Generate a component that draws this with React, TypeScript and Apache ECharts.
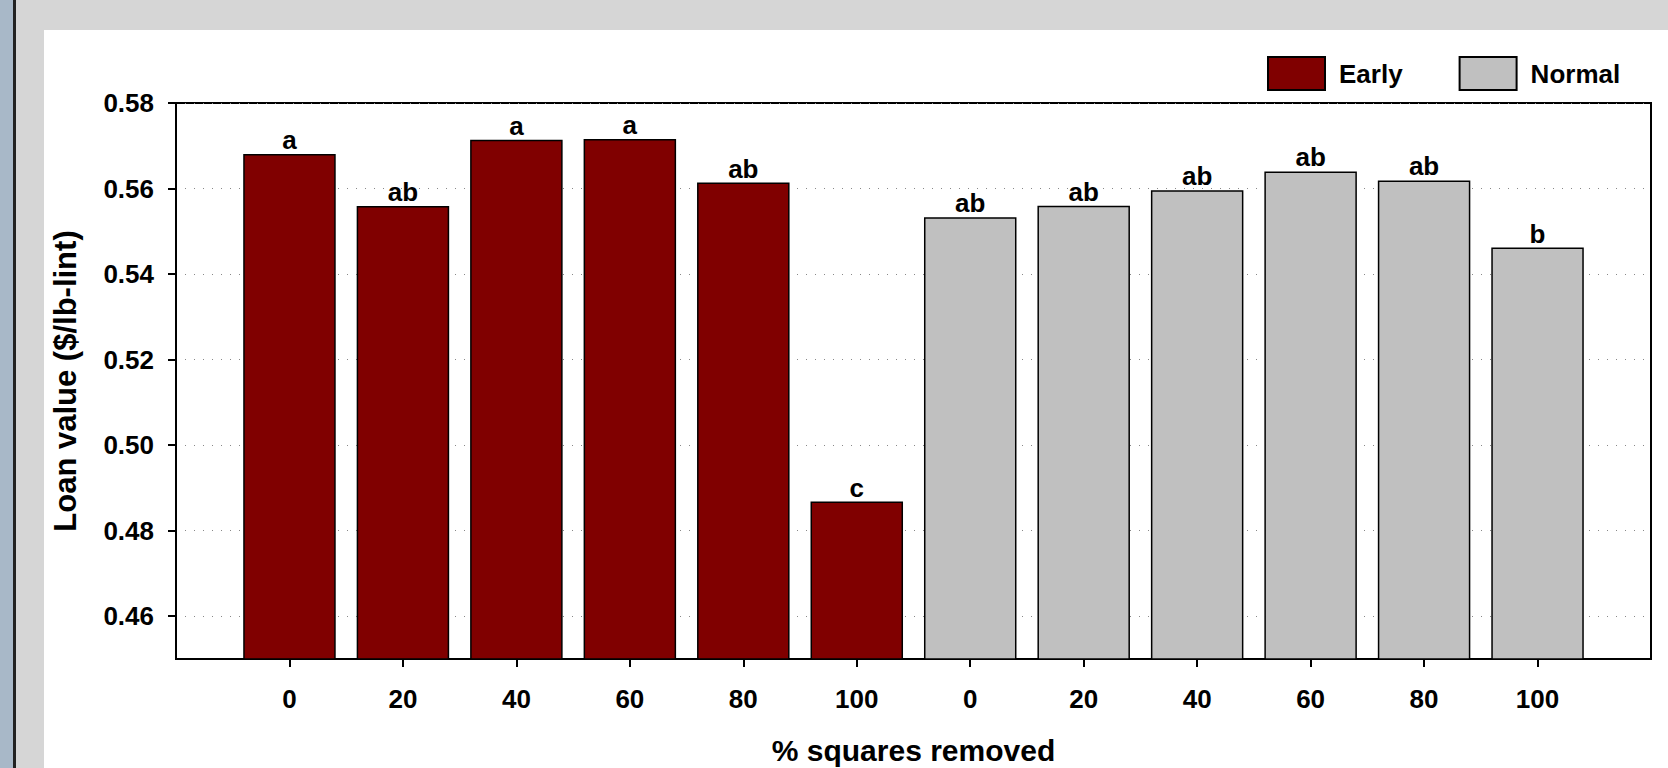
import React, { useEffect, useRef } from "react";
import * as echarts from "echarts";

const categories = ["", "0", "20", "40", "60", "80", "100", "0", "20", "40", "60", "80", "100", ""];
const earlyValues = [0.5681, 0.5559, 0.5714, 0.5716, 0.5614, 0.4868];
const normalValues = [0.5533, 0.556, 0.5596, 0.564, 0.5619, 0.5462];
const earlyLetters = ["a", "ab", "a", "a", "ab", "c"];
const normalLetters = ["ab", "ab", "ab", "ab", "ab", "b"];
const yTicks = [0.46, 0.48, 0.5, 0.52, 0.54, 0.56, 0.58];

const FONT = "'Liberation Sans', Arial, sans-serif";

export default function App() {
  const ref = useRef<HTMLDivElement>(null);

  useEffect(() => {
    if (!ref.current) return;
    const chart = echarts.init(ref.current, undefined, { renderer: "svg" });

    const earlyData: any[] = categories.map(() => "-");
    const normalData: any[] = categories.map(() => "-");
    earlyValues.forEach((v, i) => (earlyData[i + 1] = v));
    normalValues.forEach((v, i) => (normalData[i + 7] = v));

    const labelStyle = (letters: string[], offset: number) => ({
      show: true,
      position: "top" as const,
      distance: 1,
      color: "#000",
      fontFamily: FONT,
      fontWeight: "bold" as const,
      fontSize: 26,
      formatter: (p: any) => letters[p.dataIndex - offset] ?? "",
    });

    chart.setOption({
      animation: false,
      backgroundColor: "transparent",
      textStyle: { fontFamily: FONT },
      legend: {
        left: 1267,
        top: 56,
        padding: 0,
        itemWidth: 57,
        itemHeight: 33,
        itemGap: 56,
        icon: "rect",
        textStyle: { fontSize: 26, fontWeight: "bold", color: "#000", fontFamily: FONT, padding: [0, 0, 0, 9] },
        data: ["Early", "Normal"],
      },
      grid: {
        left: 176,
        right: 17,
        top: 103,
        bottom: 109,
        outerBoundsMode: "none",
        containLabel: false,
        show: true,
        borderColor: "#000",
        borderWidth: 2,
        backgroundColor: "transparent",
      },
      xAxis: {
        type: "category",
        data: categories,
        boundaryGap: false,
        name: "% squares removed",
        nameLocation: "middle",
        nameGap: 76,
        nameTextStyle: { fontSize: 30, fontWeight: "bold", color: "#000", fontFamily: FONT, lineHeight: 30 },
        axisLine: { show: true, lineStyle: { color: "#000", width: 2 } },
        axisTick: {
          show: true,
          length: 8,
          lineStyle: { color: "#000", width: 2 },
          interval: (index: number) => index > 0 && index < categories.length - 1,
        },
        axisLabel: {
          margin: 27,
          fontSize: 26,
          fontWeight: "bold",
          color: "#000",
          fontFamily: FONT,
          interval: (index: number) => index > 0 && index < categories.length - 1,
        },
        splitLine: { show: false },
      },
      yAxis: {
        type: "value",
        min: 0.45,
        max: 0.58,
        name: "Loan value ($/lb-lint)",
        nameLocation: "middle",
        nameGap: 95,
        nameTextStyle: { fontSize: 31, fontWeight: "bold", color: "#000", fontFamily: FONT },
        axisLine: { show: true, lineStyle: { color: "#000", width: 2 } },
        axisTick: {
          show: true,
          length: 8,
          lineStyle: { color: "#000", width: 2 },
          customValues: yTicks,
        },
        axisLabel: {
          margin: 22,
          fontSize: 26,
          fontWeight: "bold",
          color: "#000",
          fontFamily: FONT,
          customValues: yTicks,
          formatter: (v: number) => v.toFixed(2),
        },
        splitLine: {
          show: true,
          lineStyle: { color: "#888", width: 1, type: [1, 8] },
        },
      },
      series: [
        {
          name: "Early",
          type: "bar",
          data: earlyData,
          barWidth: 92.5,
          barGap: "-100%",
          itemStyle: { color: "#800000", borderColor: "#000", borderWidth: 1.5 },
          label: labelStyle(earlyLetters, 1),
        },
        {
          name: "Normal",
          type: "bar",
          data: normalData,
          barWidth: 92.5,
          barGap: "-100%",
          itemStyle: { color: "#c0c0c0", borderColor: "#000", borderWidth: 1.5 },
          label: labelStyle(normalLetters, 7),
        },
      ],
    });

    return () => chart.dispose();
  }, []);

  return (
    <div style={{ position: "fixed", left: 0, top: 0, width: 1668, height: 768, background: "#d6d6d6", overflow: "hidden" }}>
      <div style={{ position: "absolute", left: 0, top: 0, width: 13, height: 768, background: "#a8b8c8" }} />
      <div style={{ position: "absolute", left: 13, top: 0, width: 2.5, height: 768, background: "#222" }} />
      <div style={{ position: "absolute", left: 43.5, top: 30, right: 0, bottom: 0, background: "#fff" }} />
      <div ref={ref} style={{ position: "absolute", left: 0, top: 0, width: 1668, height: 768 }} />
    </div>
  );
}
